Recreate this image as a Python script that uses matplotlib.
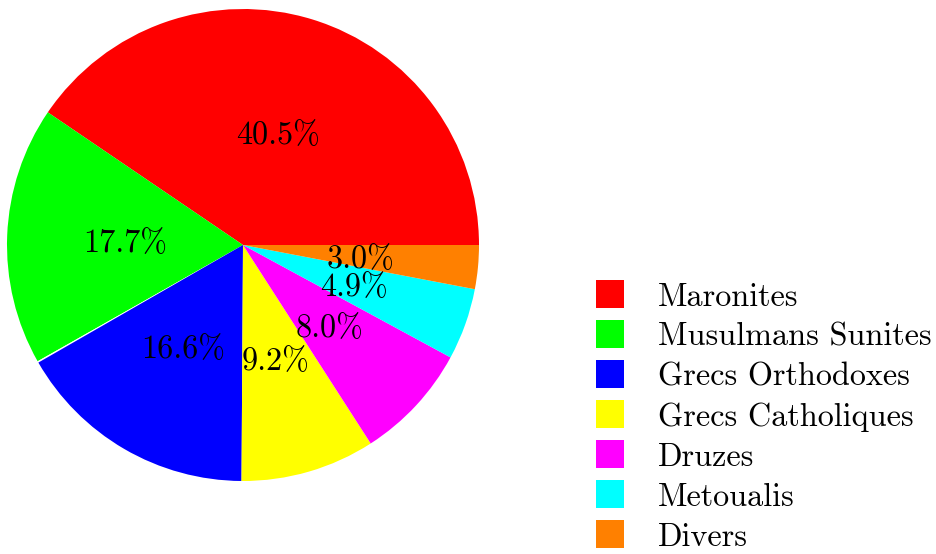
import matplotlib
matplotlib.use("Agg")
import matplotlib.pyplot as plt
from matplotlib.patches import Rectangle
from matplotlib.transforms import ScaledTranslation

# ===== データ =====================================================================
labels = ["Maronites", "Musulmans Sunites", "Grecs Orthodoxes", "Grecs Catholiques",
          "Druzes", "Metoualis", "Divers"]
values = [40.5, 17.7, 16.6, 9.2, 8.0, 4.9, 3.0]
colors = ["#ff0000", "#00ff00", "#0000ff", "#ffff00", "#ff00ff", "#00ffff", "#ff8000"]

W, H = 936, 554
FONT = "cmr10"
FS = 23.2

fig = plt.figure(figsize=(W / 100, H / 100), dpi=100)

# 合計が 100 に届かない分（0.1%）は元図では緑と青の間の白い隙間になっている
gap = 100 - sum(values)
pie_vals = values[:2] + [gap] + values[2:]
pie_cols = colors[:2] + ["white"] + colors[2:]
pie_lbls = [f"{v:.1f}%" for v in values[:2]] + [""] + [f"{v:.1f}%" for v in values[2:]]

# パイ本体（中心 243,245 px、半径 236 px）
cx, cy, r = 243, 245, 236
ax = fig.add_axes([(cx - r) / W, (H - cy - r) / H, 2 * r / W, 2 * r / H])
wedges, texts = ax.pie(
    [v / 100 for v in pie_vals],
    colors=pie_cols,
    startangle=0,
    counterclock=True,
    normalize=False,
    labels=pie_lbls,
    labeldistance=0.5,
    wedgeprops=dict(linewidth=0),
)
# ラベルは少しだけ下にずらす
shift = ScaledTranslation(0, -3 / 100, fig.dpi_scale_trans)
for t in texts:
    t.set_fontfamily(FONT)
    t.set_fontsize(FS)
    t.set_ha("center")
    t.set_va("center")
    t.set_transform(t.get_transform() + shift)
ax.set_xlim(-1, 1)
ax.set_ylim(-1, 1)
ax.set_aspect("equal")
ax.axis("off")

# 凡例（手作り）
sq = 28
x0 = 596
y_first = 294
step = 40
for i, (lab, col) in enumerate(zip(labels, colors)):
    yc = y_first + i * step
    fig.patches.append(Rectangle((x0 / W, (H - yc - sq / 2) / H), sq / W, sq / H,
                                 transform=fig.transFigure, facecolor=col,
                                 edgecolor="none"))
    fig.text(658 / W, (H - yc - 12) / H, lab, fontfamily=FONT, fontsize=FS,
             va="baseline", ha="left")

fig.savefig("out.png", dpi=100)
